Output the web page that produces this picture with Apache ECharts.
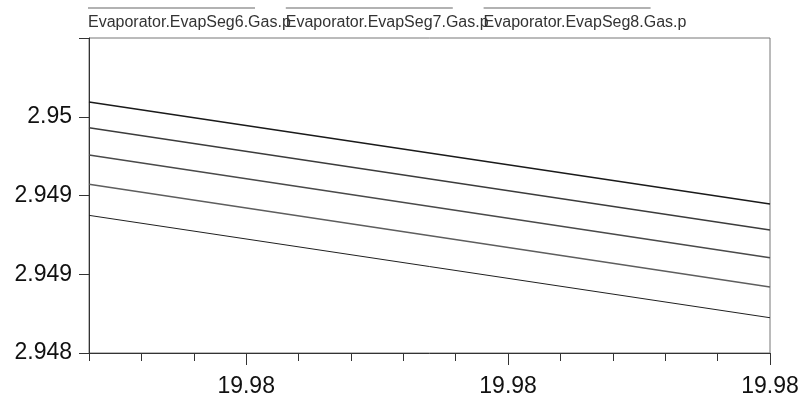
<!DOCTYPE html>
<html>
<head>
<meta charset="utf-8">
<script src="https://cdn.jsdelivr.net/npm/echarts@6/dist/echarts.min.js"></script>
<style>html,body{margin:0;padding:0;background:#fff}#c{width:803px;height:400px}</style>
</head>
<body>
<div id="c"></div>
<script>
// ---- data ----
var seriesNames = [
  "Evaporator.EvapSeg4.Gas.p",
  "Evaporator.EvapSeg5.Gas.p",
  "Evaporator.EvapSeg6.Gas.p",
  "Evaporator.EvapSeg7.Gas.p",
  "Evaporator.EvapSeg8.Gas.p"
];
var legendNames = ["Evaporator.EvapSeg6.Gas.p", "Evaporator.EvapSeg7.Gas.p", "Evaporator.EvapSeg8.Gas.p"];
var timeValues = [19.9797, 19.9810];
var seg4 = [2.949594, 2.948946];
var seg5 = [2.949430, 2.948781];
var seg6 = [2.949257, 2.948605];
var seg7 = [2.949071, 2.948419];
var seg8 = [2.948874, 2.948224];
var xMinorTicks = [19.9797, 19.9798, 19.9799, 19.9800, 19.9801, 19.9802, 19.9803, 19.9804, 19.9805, 19.9806, 19.9807, 19.9808, 19.9809, 19.9810];
var xMajorTicks = [19.9800, 19.9805, 19.9810];
var yTickLabels = ["2.948", "2.949", "2.949", "2.95", ""];

var seriesValues = [seg4, seg5, seg6, seg7, seg8];
var lineColors = ["#1a1a1a", "#3c3c3c", "#4a4a4a", "#5e5e5e", "#202020"];
var lineWidths = [1.4, 1.5, 1.5, 1.5, 1.0];

var chart = echarts.init(document.getElementById('c'), null, {renderer: 'canvas'});
var font = '"Liberation Sans", Arial, sans-serif';

var series = seriesNames.map(function (name, i) {
  return {
    name: name,
    type: 'line',
    xAxisIndex: 0,
    yAxisIndex: 0,
    symbol: 'none',
    silent: true,
    lineStyle: {color: lineColors[i], width: lineWidths[i]},
    itemStyle: {color: lineColors[i]},
    data: timeValues.map(function (t, k) { return [t, seriesValues[i][k]]; })
  };
});

var option = {
  animation: false,
  backgroundColor: '#fff',
  legend: {
    data: legendNames,
    left: 83,
    top: 0,
    padding: 0,
    icon: 'rect',
    itemWidth: 0,
    itemHeight: 0,
    itemGap: -10,
    selectedMode: false,
    formatter: function (name) { return '{l|}\n{t|' + name + '}'; },
    textStyle: {
      fontFamily: font,
      fontSize: 16,
      color: '#333',
      rich: {
        l: {width: 167, height: 1, lineHeight: 9, backgroundColor: '#666'},
        t: {fontSize: 16, lineHeight: 20, fontFamily: font, color: '#333'}
      }
    }
  },
  grid: {
    left: 89, right: 33, top: 38, bottom: 47,
    show: true, borderColor: '#777', borderWidth: 1, backgroundColor: 'transparent'
  },
  xAxis: [{
    type: 'value',
    min: timeValues[0],
    max: timeValues[1],
    position: 'bottom',
    axisLine: {show: true, lineStyle: {color: '#333', width: 1}},
    axisTick: {show: true, inside: false, length: 8, customValues: xMinorTicks, lineStyle: {color: '#333'}},
    axisLabel: {show: false},
    splitLine: {show: false}
  }, {
    type: 'value',
    min: timeValues[0],
    max: timeValues[1],
    position: 'bottom',
    axisLine: {show: false},
    axisTick: {show: true, inside: false, length: 12, customValues: xMajorTicks, lineStyle: {color: '#333'}},
    axisLabel: {
      show: true,
      customValues: xMajorTicks,
      margin: 22,
      fontFamily: font,
      fontSize: 23,
      color: '#111',
      formatter: function (v) { return v.toFixed(2); }
    },
    splitLine: {show: false}
  }],
  yAxis: [{
    type: 'value',
    min: 2.948,
    max: 2.950,
    interval: 0.0005,
    axisLine: {show: true, lineStyle: {color: '#333', width: 1}},
    axisTick: {show: true, inside: false, length: 10, lineStyle: {color: '#333'}},
    axisLabel: {
      margin: 17,
      fontFamily: font,
      fontSize: 23,
      color: '#111',
      showMaxLabel: true,
      formatter: function (v) {
        var idx = Math.round((v - 2.948) / 0.0005);
        return yTickLabels[idx] !== undefined ? yTickLabels[idx] : '';
      }
    },
    splitLine: {show: false}
  }],
  series: series
};
chart.setOption(option);
</script>
</body>
</html>
